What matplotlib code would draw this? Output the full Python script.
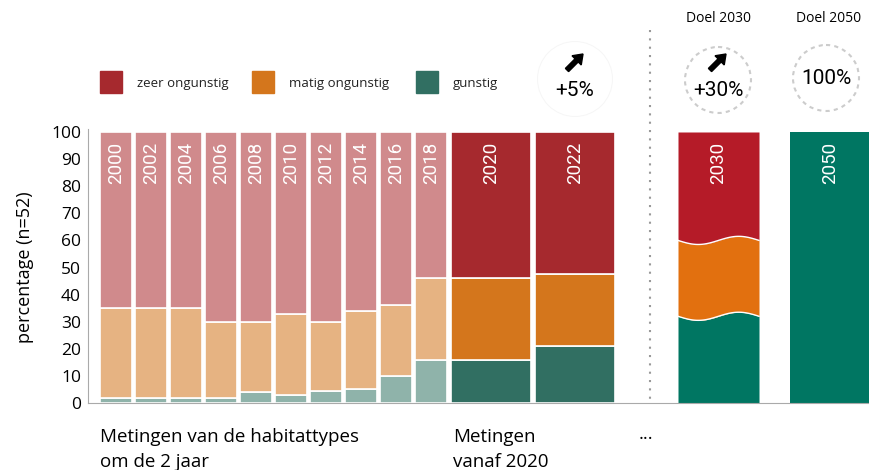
import numpy as np
import matplotlib
matplotlib.use("Agg")
import matplotlib.pyplot as plt
from matplotlib.patches import Circle, Rectangle, FancyArrow

plt.rcParams['font.family'] = ['Open Sans', 'DejaVu Sans']

# data (percentage of 52 habitat types)
years = ["2000", "2002", "2004", "2006", "2008", "2010", "2012", "2014", "2016", "2018", "2020", "2022"]
gunstig = [2, 2, 2, 2, 4, 3, 4.5, 5, 10, 16, 16, 21]
matig = [33, 33, 33, 28, 26, 30, 25.5, 29, 26, 30, 30, 26.5]
zeer = [100 - g - m for g, m in zip(gunstig, matig)]

goal_years = ["2030", "2050"]
goal_gunstig = [32, 100]
goal_matig = [28, 0]

yticks = list(range(0, 101, 10))

# colours
faded = {"zeer": "#D08A8C", "matig": "#E6B382", "gunstig": "#8FB3AA"}
strong = {"zeer": "#A6292E", "matig": "#D4761C", "gunstig": "#316F62"}
goal = {"zeer": "#B51B28", "matig": "#E2700F", "gunstig": "#007662"}

W, H = 869, 470
fig = plt.figure(figsize=(W / 100, H / 100), dpi=100)

# main axes, x in "pixel" units starting at the y-axis
x0, x1, ytop, ybot = 88, 869, 132, 403
ax = fig.add_axes([x0 / W, (H - ybot) / H, (x1 - x0) / W, (ybot - ytop) / H])
ax.set_xlim(0, x1 - x0)
ax.set_ylim(0, 100)

# bar layout
narrow_w, narrow_step = 32, 35
wide_w, wide_gap = 80, 4
lefts = [12 + i * narrow_step for i in range(10)]
lefts.append(lefts[-1] + narrow_w + wide_gap)
lefts.append(lefts[-1] + wide_w + wide_gap)
widths = [narrow_w] * 10 + [wide_w] * 2
centers = [l + w / 2 for l, w in zip(lefts, widths)]

label_font = ['Roboto', 'DejaVu Sans']

for i in range(len(years)):
    cols = faded if i < 10 else strong
    kw = dict(width=widths[i], align='edge', edgecolor='white', linewidth=1.2)
    ax.bar(lefts[i], gunstig[i], color=cols["gunstig"], **kw)
    ax.bar(lefts[i], matig[i], bottom=gunstig[i], color=cols["matig"], **kw)
    ax.bar(lefts[i], zeer[i], bottom=gunstig[i] + matig[i], color=cols["zeer"], **kw)
    ax.text(centers[i], 96.5, years[i], rotation=90, ha='center', va='top',
            color='white', fontsize=13.5, family=label_font)

# goal bars
goal_lefts = [590, 702]
goal_w = 81
# 2030 bar with wavy boundaries
xs = np.linspace(goal_lefts[0], goal_lefts[0] + goal_w, 100)
wave = -1.5 * np.sin(2 * np.pi * (xs - goal_lefts[0]) / goal_w)
b1 = goal_gunstig[0] + wave
b2 = goal_gunstig[0] + goal_matig[0] + wave
ax.fill_between(xs, 0, b1, color=goal["gunstig"], linewidth=0)
ax.fill_between(xs, b1, b2, color=goal["matig"], linewidth=0)
ax.fill_between(xs, b2, 100, color=goal["zeer"], linewidth=0)
ax.plot(xs, b1, color='white', lw=1)
ax.plot(xs, b2, color='white', lw=1)
ax.bar(goal_lefts[1], goal_gunstig[1], width=goal_w, align='edge', color=goal["gunstig"], linewidth=0)
for gl, gy in zip(goal_lefts, goal_years):
    ax.text(gl + goal_w / 2, 96.5, gy, rotation=90, ha='center', va='top',
            color='white', fontsize=13.5, family=label_font)

# axes styling
for s in ['top', 'right']:
    ax.spines[s].set_visible(False)
ax.spines['left'].set_color('#AAAAAA')
ax.spines['bottom'].set_color('#AAAAAA')
ax.spines['left'].set_bounds(0, 101)
ax.set_xticks([])
ax.set_yticks(yticks)
ax.set_yticklabels([str(t) for t in yticks], fontsize=12.5)
ax.tick_params(axis='y', length=0, pad=5)
ax.set_ylabel("percentage (n=52)", fontsize=13, labelpad=12)

# overlay in pixel coordinates for the decorations
ov = fig.add_axes([0, 0, 1, 1])
ov.set_xlim(0, W)
ov.set_ylim(H, 0)
ov.axis('off')

# legend
legend_items = [("zeer ongunstig", strong["zeer"], 100), ("matig ongunstig", strong["matig"], 252),
                ("gunstig", strong["gunstig"], 416)]
for label, c, lx in legend_items:
    ov.add_patch(Rectangle((lx, 71), 22, 22, color=c))
    ov.text(lx + 37, 84, label, fontsize=9.5, va='center', ha='left', color='#222222')

# +5% circle
ov.add_patch(Circle((575, 79), 38, facecolor='#F6F6F6', edgecolor='none'))
ov.add_patch(Circle((575, 79), 37, facecolor='white', edgecolor='none'))
for cx, cy in [(575, 62), (718, 62)]:
    ov.add_patch(FancyArrow(cx - 8, cy + 8, 16, -16, width=4.5, head_width=13, head_length=9,
                            color='black', length_includes_head=True))
ov.text(575, 90, "+5%", fontsize=15, ha='center', va='center', family=label_font)

# goal circles
ov.add_patch(Circle((718, 80), 33, facecolor='none', edgecolor='#CCCCCC', lw=1.5, ls=(0, (2, 2))))
ov.add_patch(Circle((826, 78), 33, facecolor='none', edgecolor='#CCCCCC', lw=1.5, ls=(0, (2, 2))))
ov.text(718, 90, "+30%", fontsize=15, ha='center', va='center', family=label_font)
ov.text(826, 78, "100%", fontsize=15, ha='center', va='center', family=label_font)
ov.text(718, 19, "Doel 2030", fontsize=10, ha='center', va='center')
ov.text(829, 19, "Doel 2050", fontsize=10, ha='center', va='center')

# dotted separator
ov.plot([650, 650], [30, 405], color='#999999', lw=1.5, ls=(0, (1, 3)))

# bottom texts
ov.text(100, 437, "Metingen van de habitattypes", fontsize=13.5, ha='left', va='center')
ov.text(100, 462, "om de 2 jaar", fontsize=13.5, ha='left', va='center')
ov.text(453, 437, "Metingen", fontsize=13.5, ha='left', va='center')
ov.text(453, 462, "vanaf 2020", fontsize=13.5, ha='left', va='center')
ov.text(646, 434, "...", fontsize=13.5, ha='center', va='center')

fig.savefig("out.png", dpi=100)
